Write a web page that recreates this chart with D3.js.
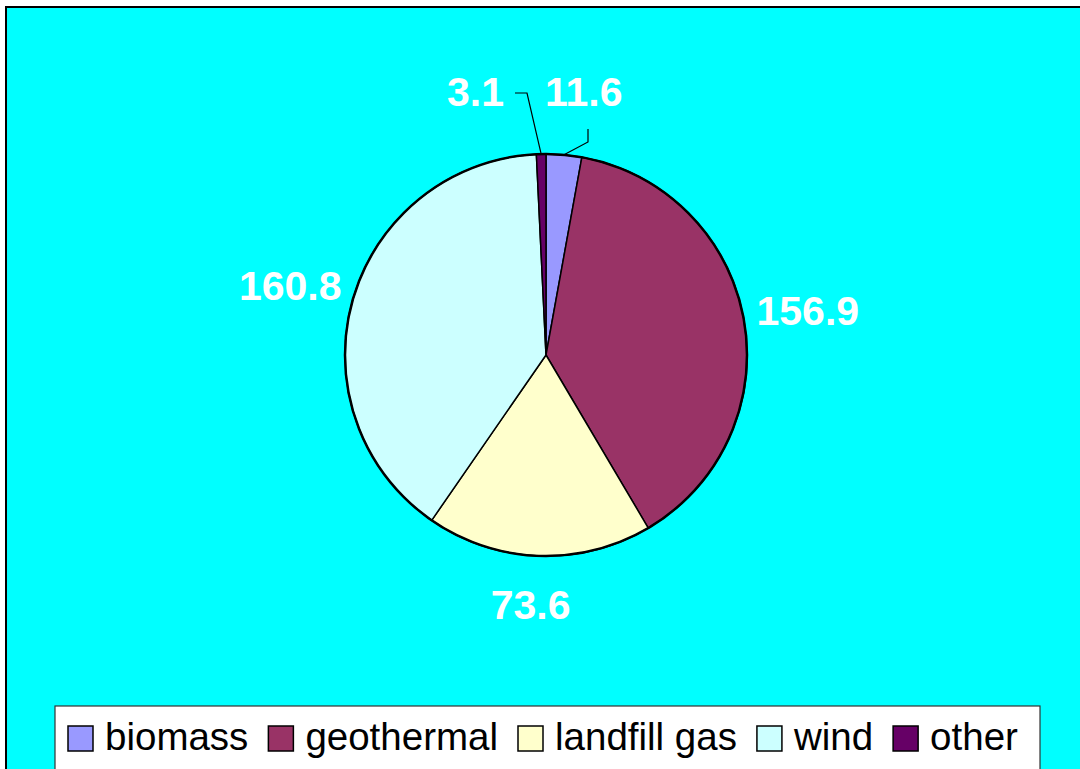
<!DOCTYPE html>
<html>
<head>
<meta charset="utf-8">
<script src="https://cdn.jsdelivr.net/npm/d3@7"></script>
<style>
  body { margin: 0; background: #fff; }
  svg { display: block; }
</style>
</head>
<body>
<div id="master"></div>
<script>
// data
let categories = ["biomass", "geothermal", "landfill gas", "wind", "other"]
let values = [11.6, 156.9, 73.6, 160.8, 3.1]
let colors = ["#9999FF", "#993366", "#FFFFCC", "#CCFFFF", "#660066"]

let w = 1080, h = 769
let cx = 546, cy = 355, r = 201

let svg = d3.select("#master").append("svg").attr("width", w).attr("height", h)

// plot frame (runs off the right and bottom of the page)
svg.append("rect")
  .attr("x", 6).attr("y", 7)
  .attr("width", w + 20).attr("height", h + 20)
  .attr("fill", "#00FFFF")
  .attr("stroke", "#000").attr("stroke-width", 2)

let data = categories.map((c, i) => ({ name: c, value: values[i], color: colors[i] }))

let pie = d3.pie().value(d => d.value).sort(null).startAngle(0).endAngle(2 * Math.PI)
let arcs = pie(data)
let arc = d3.arc().innerRadius(0).outerRadius(r)

let g = svg.append("g").attr("transform", "translate(" + cx + "," + cy + ")")

g.selectAll("path.slice")
  .data(arcs)
  .enter()
  .append("path")
  .attr("class", "slice")
  .attr("d", arc)
  .attr("fill", d => d.data.color)
  .attr("stroke", "#000")
  .attr("stroke-width", 1.5)
  .attr("stroke-linejoin", "round")

g.append("circle").attr("r", r).attr("fill", "none").attr("stroke", "#000").attr("stroke-width", 2.5)

// labels
let mid = d => (d.startAngle + d.endAngle) / 2
let rx = 266, ry = 250
let small = d => (d.endAngle - d.startAngle) < 0.2

let labels = g.selectAll("text.lbl")
  .data(arcs)
  .enter()
  .append("text")
  .attr("class", "lbl")
  .attr("font-family", "Arial, 'Liberation Sans', sans-serif")
  .attr("font-weight", "bold")
  .attr("font-size", 41)
  .attr("fill", "#fff")
  .text(d => d.data.value.toFixed(1))

labels.filter(d => !small(d))
  .attr("text-anchor", "middle")
  .attr("dominant-baseline", "central")
  .attr("x", d => Math.sin(mid(d)) * rx - (Math.abs(Math.sin(mid(d))) < 0.3 ? 6 : 0))
  .attr("y", d => -Math.cos(mid(d)) * ry)

// small slices at top: pushed to either side with leader lines
labels.filter(d => small(d))
  .attr("text-anchor", d => mid(d) > Math.PI ? "end" : "start")
  .attr("x", d => mid(d) > Math.PI ? -42 : -1)
  .attr("y", -249)

arcs.filter(small).forEach(d => {
  let a = mid(d)
  let edge = [Math.sin(a) * r, -Math.cos(a) * r]
  let pts
  if (a > Math.PI) {
    pts = [edge, [-19, -262], [-31, -262]]
  } else {
    pts = [edge, [42, -213], [42, -226]]
  }
  g.append("path")
    .attr("d", d3.line()(pts))
    .attr("fill", "none")
    .attr("stroke", "#000")
    .attr("stroke-width", 1.2)
})

// legend
let legend = svg.append("g").attr("id", "legend")
legend.append("rect")
  .attr("x", 55).attr("y", 706)
  .attr("width", 985).attr("height", 64)
  .attr("fill", "#fff")
  .attr("stroke", "#333").attr("stroke-width", 1.2)

let lx = 68
data.forEach(d => {
  legend.append("rect")
    .attr("x", lx).attr("y", 726)
    .attr("width", 25).attr("height", 25)
    .attr("fill", d.color)
    .attr("stroke", "#000").attr("stroke-width", 1.5)
  let t = legend.append("text")
    .attr("x", lx + 37).attr("y", 750)
    .attr("font-family", "Arial, 'Liberation Sans', sans-serif")
    .attr("font-size", 38.5)
    .attr("fill", "#000")
    .text(d.name)
  lx = lx + 37 + t.node().getComputedTextLength() + 20
})
</script>
</body>
</html>
